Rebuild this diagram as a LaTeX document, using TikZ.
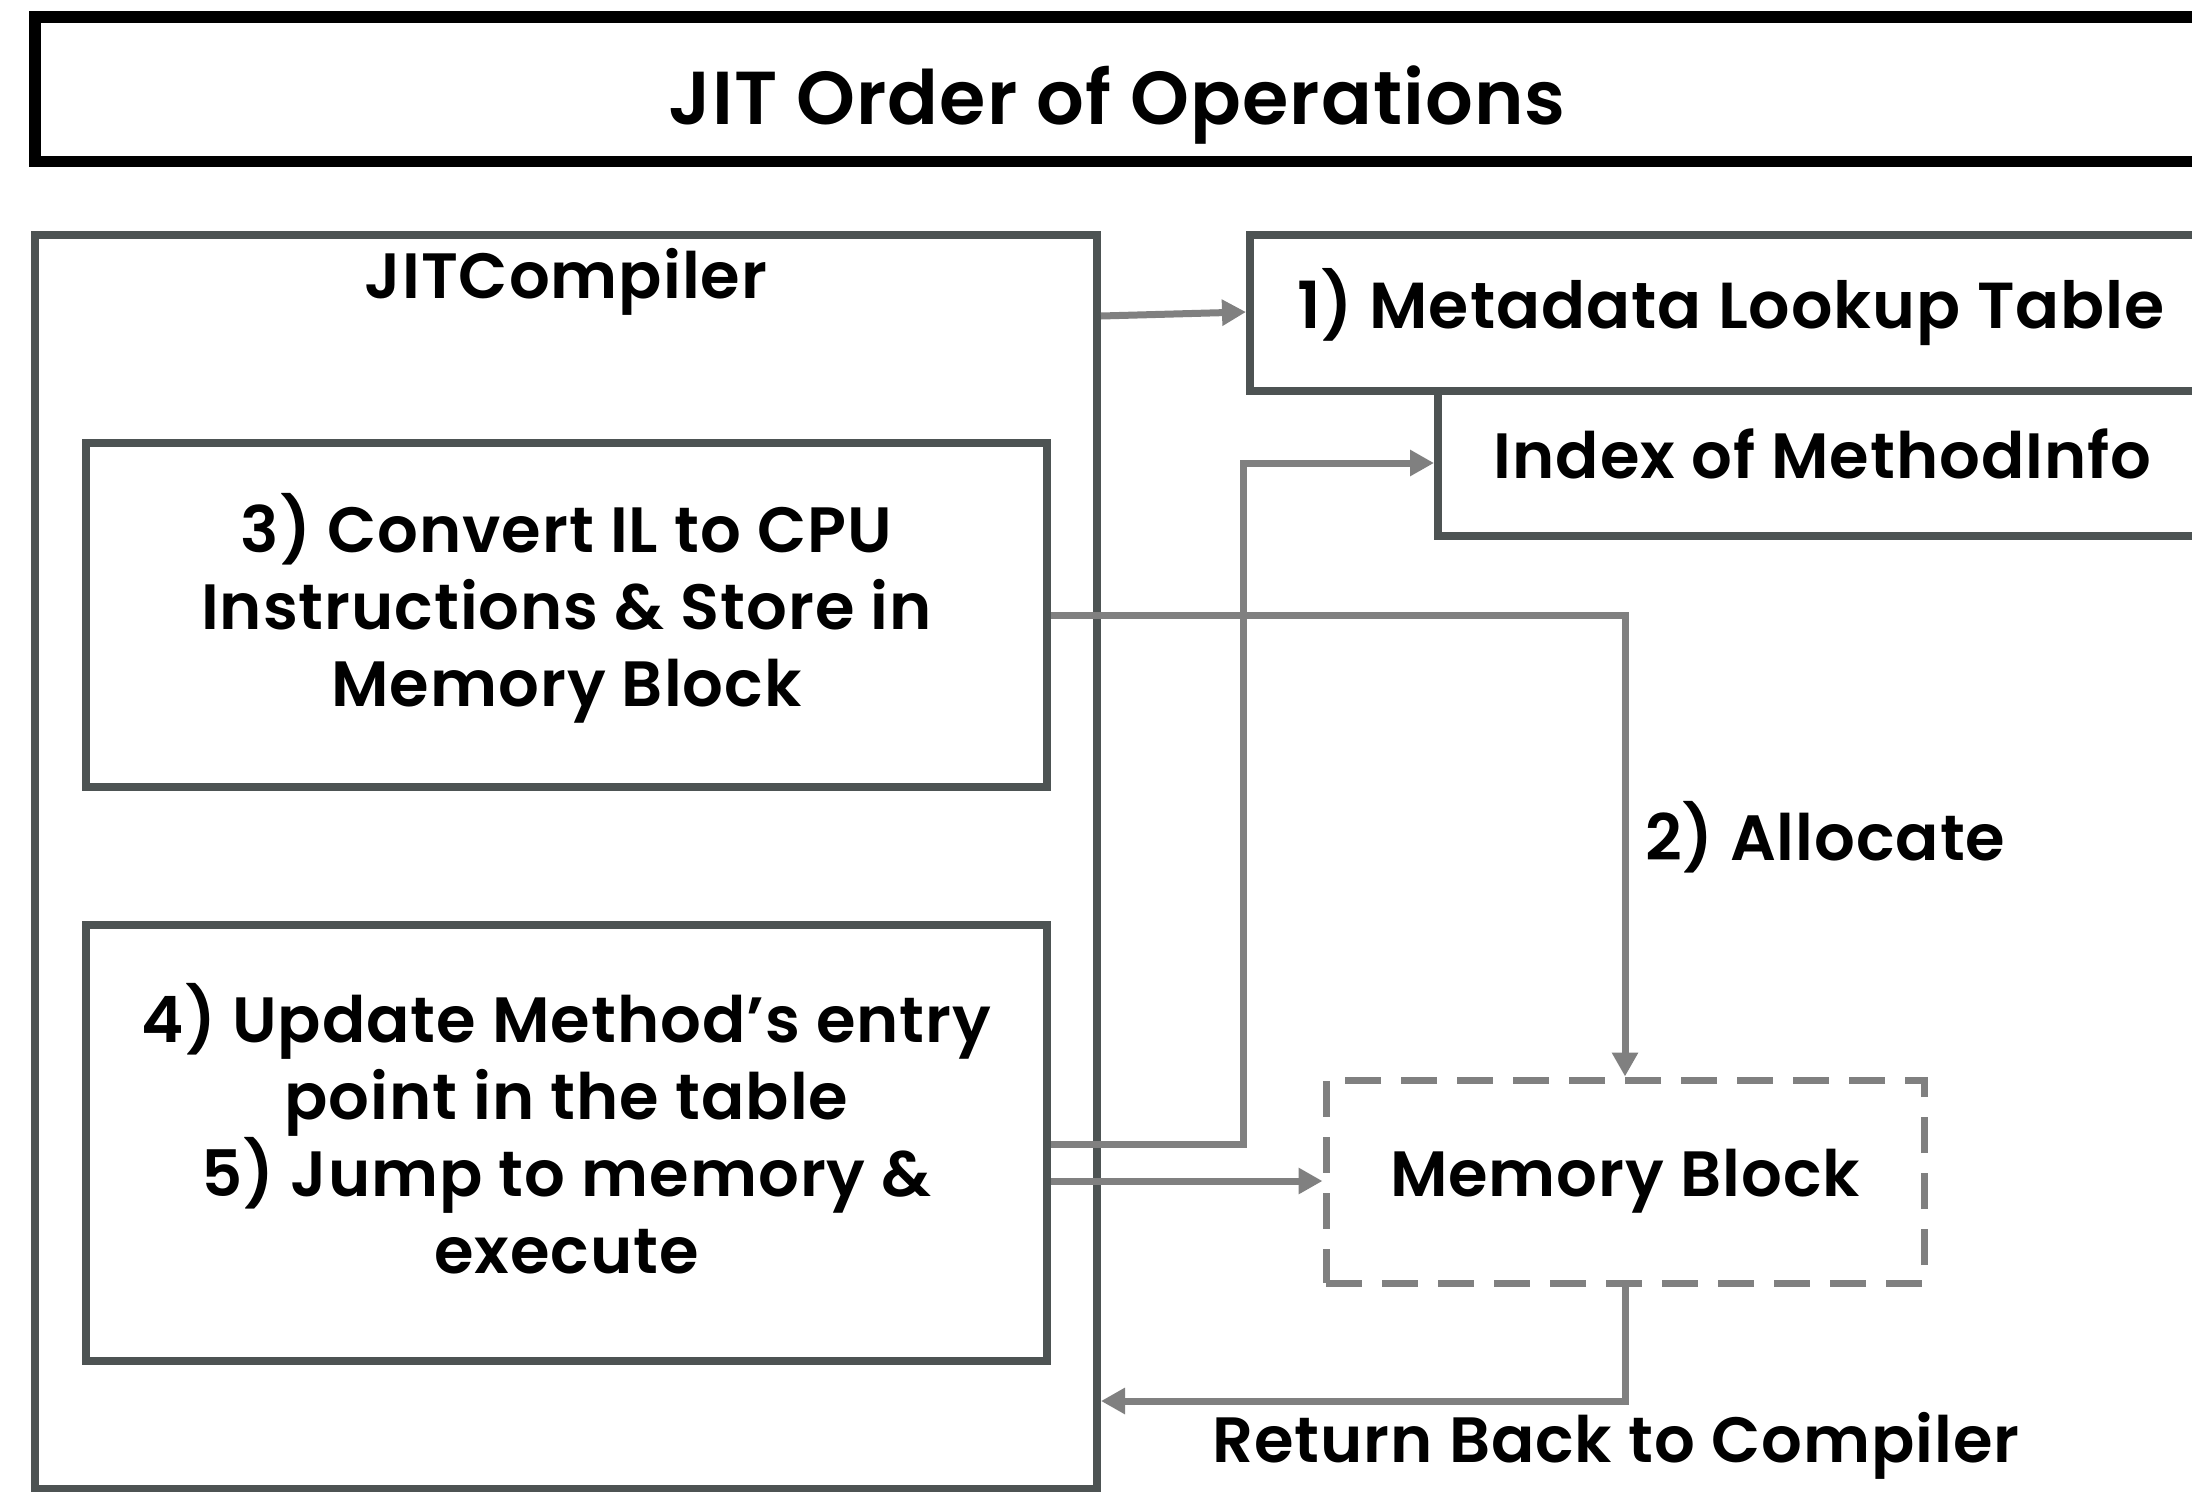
\documentclass[tikz,border=0pt]{standalone}
\usepackage{fontspec}
\setmainfont{Poppins}[BoldFont={Poppins SemiBold}, BoldFeatures={LetterSpace=1.5}]
\usetikzlibrary{arrows.meta}
\definecolor{boxgray}{RGB}{77,83,83}
\definecolor{arrgray}{RGB}{128,128,128}
\begin{document}
\begin{tikzpicture}[x=1pt,y=-1pt,
  bodyfont/.style={font=\fontsize{64}{77}\selectfont\bfseries},
  bigfont/.style={font=\fontsize{75}{90}\selectfont\bfseries},
  graybox/.style={draw=boxgray, line width=8pt, inner sep=0pt, align=center, bodyfont},
  boxtext/.style={inner sep=0pt, align=center, bodyfont},
  titlebox/.style={draw=black, line width=11.5pt, inner sep=0pt, align=center, bigfont},
  membox/.style={draw=arrgray, line width=7pt, dash pattern=on 36pt off 20pt, inner sep=0pt, align=center, bodyfont},
  conn/.style={draw=arrgray, line width=7pt, -{Triangle[length=24pt,width=25pt]}},
  lbl/.style={inner sep=0pt, bodyfont, anchor=base west}
]
\useasboundingbox (0,0) rectangle (2192,1491);
\clip (0,0) rectangle (2192,1491);

% title
\node[titlebox, minimum width=2164pt, minimum height=144.5pt, text height=71pt, text depth=0pt] (title) at (1117,89) {JIT Order of Operations};

% JIT compiler container
\node[draw=boxgray, line width=8pt, inner sep=0pt, minimum width=1062.5pt, minimum height=1254pt] (jit) at (565.75,862) {};
\node[inner sep=0pt, bodyfont, anchor=base] (jitlabel) at (566,298) {JITCompiler};

% inner boxes
\node[graybox, minimum width=961pt, minimum height=344pt] (box3) at (566.5,615) {};
\node[boxtext] (box3text) at (566.5,608)
  {3) Convert IL to CPU\\Instructions \& Store in\\Memory Block};
\node[graybox, minimum width=961pt, minimum height=436pt] (box4) at (566.5,1143) {};
\node[boxtext] (box4text) at (566.5,1129)
  {4) Update Method’s entry\\point in the table\\5) Jump to memory \&\\execute};

% lookup table boxes
\node[graybox, minimum width=962pt, minimum height=156pt, text height=30pt, text depth=0pt, font=\fontsize{65}{77}\selectfont\bfseries] (meta) at (1731,313) {1) Metadata Lookup Table};
\node[graybox, minimum width=769pt, minimum height=145pt, text height=30pt, text depth=0pt] (index) at (1822.5,463.5) {Index of MethodInfo};

% memory block
\node[membox, minimum width=598pt, minimum height=203pt] (mem) at (1625,1181.5) {Memory Block};

% connectors
\draw[conn] (jit.north east |- 0,316) -- (meta.west |- 0,312);
\draw[conn] (box3.east |- 0,615) -| (mem.north);
\draw[conn] (box4.east |- 0,1144) -| (1243,463) -- (index.west |- 0,463);
\draw[conn] (box4.east |- 0,1181) -- (mem.west |- 0,1181);
\draw[conn] (mem.south) |- (jit.east |- 0,1401);

% labels
\node[lbl] (alloc) at (1645,860) {2) Allocate};
\node[lbl] (ret) at (1212,1462) {Return Back to Compiler};
\end{tikzpicture}
\end{document}
